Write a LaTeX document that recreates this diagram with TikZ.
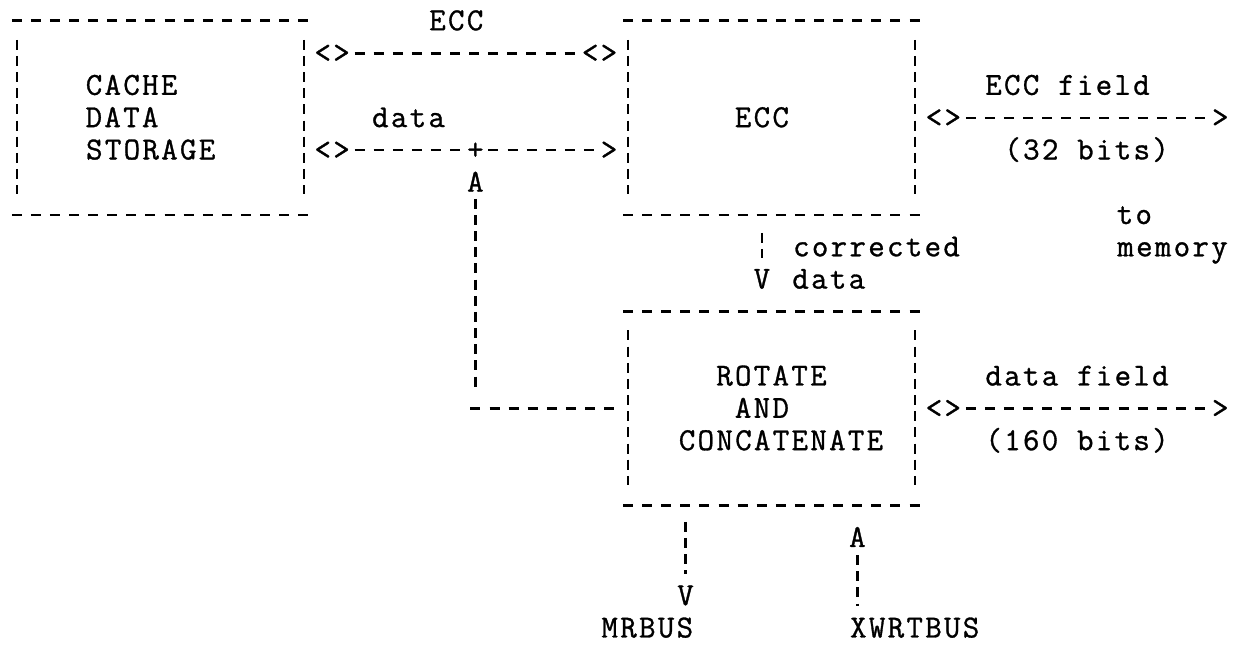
\documentclass[tikz,border=0pt]{standalone}
\usepackage{fontspec}
\setmonofont[LetterSpace=7.2,FakeBold=1]{Latin Modern Mono}
\usetikzlibrary{calc}
\begin{document}
\begin{tikzpicture}[x=19.1pt,y=-32.3pt,
  every node/.style={font=\ttfamily\fontsize{32pt}{32.3pt}\selectfont, inner sep=0pt},
  lbl/.style={anchor=center, text height=18.4pt, text depth=0pt},
  hd/.style={line width=2.6pt, dash pattern=on 10pt off 9.1pt},
  vd/.style={line width=2.4pt, dash pattern=on 10pt off 6.15pt},
  box/.style={draw=none, minimum width=286.5pt, minimum height=193.8pt, anchor=center}]
\useasboundingbox (-0.890,-0.650) rectangle (64.346,19.412);

% boxes
\node[box] (cache) at (7.5,3) {};
\node[box] (ecc) at (39.5,3) {};
\node[box] (rot) at (39.5,12) {};
\foreach \b in {cache,ecc,rot}{
  \draw[hd] ([xshift=-5pt]\b.north west) -- ([xshift=5pt]\b.north east);
  \draw[hd] ([xshift=-5pt]\b.south west) -- ([xshift=5pt]\b.south east);
  \draw[vd] ([yshift=-19pt]\b.north west) -- ([yshift=21pt]\b.south west);
  \draw[vd] ([yshift=-19pt]\b.north east) -- ([yshift=21pt]\b.south east);
}

% texts
\node[lbl] (cacheA) at (6,2) {CACHE};
\node[lbl] (cacheB) at (5.5,3) {DATA};
\node[lbl] (cacheC) at (7,4) {STORAGE};
\node[lbl] (eccL) at (23,0) {ECC};
\node[lbl] (dataL) at (20.5,3) {data};
\node[lbl] (eccT) at (39,3) {ECC};
\node[lbl] (ef) at (55,2) {ECC field};
\node[lbl] (eb) at (56,4) {(32 bits)};
\node[lbl] (to) at (58.5,6) {to};
\node[lbl] (mem) at (60.5,7) {memory};
\node[lbl] (corr) at (45,7) {corrected};
\node[lbl] (cdat) at (42.5,8) {data};
\node[lbl] (vc) at (39,8) {V};
\node[lbl] (rt1) at (39.5,11) {ROTATE};
\node[lbl] (rt2) at (39,12) {AND};
\node[lbl] (rt3) at (40,13) {CONCATENATE};
\node[lbl] (df) at (55.5,11) {data field};
\node[lbl] (db) at (55.5,13) {(160 bits)};
\node[lbl] (au) at (24,5) {A};
\node[lbl] (ax) at (44,16) {A};
\node[lbl] (vm) at (35,17.8) {V};
\node[lbl] (mr) at (33,18.8) {MRBUS};
\node[lbl] (xw) at (47,18.8) {XWRTBUS};

% arrow glyphs
\node[lbl] (a1l) at (16.5,1) {<>};
\node[lbl] (a1r) at (30.5,1) {<>};
\node[lbl] (a2l) at (16.5,4) {<>};
\node[lbl] (plus) at (24,4) {+};
\node[lbl] (a2r) at (31,4) {>};
\node[lbl] (a3l) at (48.5,3) {<>};
\node[lbl] (a3r) at (63,3) {>};
\node[lbl] (a4l) at (48.5,12) {<>};
\node[lbl] (a4r) at (63,12) {>};

% connectors
\draw[hd] ([xshift=4.6pt]a1l.east) -- ([xshift=-4.6pt]a1r.west);
\draw[hd] ([xshift=4.6pt]a2l.east) -- ([xshift=-4.6pt]plus.west);
\draw[hd] ([xshift=4.6pt]plus.east) -- ([xshift=-4.6pt]a2r.west);
\draw[hd] ([xshift=4.6pt]a3l.east) -- ([xshift=-4.6pt]a3r.west);
\draw[hd] ([xshift=4.6pt]a4l.east) -- ([xshift=-4.6pt]a4r.west);

\coordinate (corner) at (au.south |- rot.center);
\draw[vd] ([yshift=-7pt]au.south) -- ($(corner)+(0,-0.67)$);
\draw[hd] ($(corner)+(-0.26,0)$) -- ($(rot.west)+(-0.65,0)$);

\draw[vd] ($(vc.north |- ecc.south)+(0,0.55)$) -- ($(vc.north)+(0,-0.37)$);
\draw[vd] ($(vm.north |- rot.south)+(0,0.5)$) -- ($(vm.north)+(0,-0.4)$);
\draw[vd] ([yshift=-8pt]ax.south) -- ($(ax.south |- xw.north)+(0,-0.4)$);
\end{tikzpicture}
\end{document}
